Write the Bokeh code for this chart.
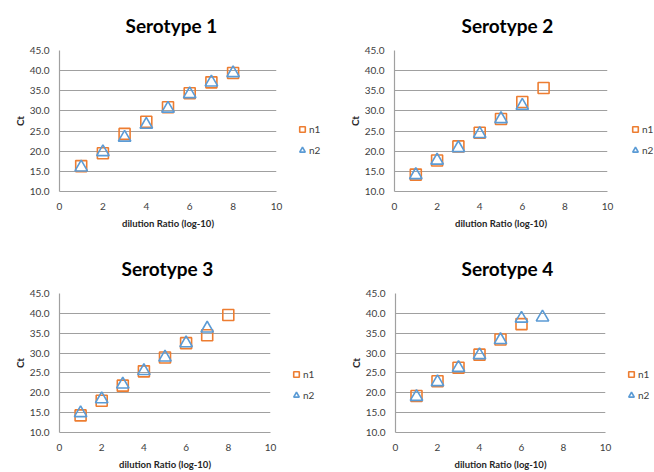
from bokeh.plotting import figure
from bokeh.layouts import column, row
from bokeh.models import (Range1d, FixedTicker, NumeralTickFormatter,
                          Legend, LegendItem, ColumnDataSource)
from bokeh.embed import file_html
from bokeh.resources import INLINE

# ---------------- data ----------------
titles = ["Serotype 1", "Serotype 2", "Serotype 3", "Serotype 4"]

s1_x_n1 = [1, 2, 3, 4, 5, 6, 7, 8]
s1_n1 = [16.3, 19.5, 24.3, 27.3, 30.9, 34.4, 37.1, 39.4]
s1_x_n2 = [1, 2, 3, 4, 5, 6, 7, 8]
s1_n2 = [16.0, 19.8, 23.4, 26.6, 30.6, 34.2, 37.1, 39.4]

s2_x_n1 = [1, 2, 3, 4, 5, 6, 7]
s2_n1 = [14.2, 17.7, 21.2, 24.6, 28.0, 32.2, 35.7]
s2_x_n2 = [1, 2, 3, 4, 5, 6]
s2_n2 = [14.1, 17.7, 20.8, 24.3, 28.0, 31.3]

s3_x_n1 = [1, 2, 3, 4, 5, 6, 7, 8]
s3_n1 = [14.3, 18.0, 21.8, 25.4, 28.9, 32.5, 34.5, 39.6]
s3_x_n2 = [1, 2, 3, 4, 5, 6, 7]
s3_n2 = [14.9, 18.4, 22.1, 25.5, 28.9, 32.5, 36.2]

s4_x_n1 = [1, 2, 3, 4, 5, 6]
s4_n1 = [19.2, 22.9, 26.3, 29.6, 33.4, 37.3]
s4_x_n2 = [1, 2, 3, 4, 5, 6, 7]
s4_n2 = [19.0, 22.7, 26.3, 29.5, 33.3, 38.7, 39.0]

x_ticks = [0, 2, 4, 6, 8, 10]
y_ticks = [10, 15, 20, 25, 30, 35, 40, 45]
x_label = "dilution Ratio (log-10)"
y_label = "Ct"
series_names = ["n1", "n2"]

# ---------------- style ----------------
FONT = "Lato"
ORANGE = "#ED7D31"
BLUE = "#5B9BD5"
GRID = "#A0A0A0"
TICK_TXT = "#404040"

# per-panel: main fig (width, height, borders), title offset/standoff,
#            legend fig width, legend (x, y)
layouts = [
    dict(w=286, h=236, l=59, r=10, t=50, b=45, toff=66, tso=24, lw=41, lx=9, ly=34),
    dict(w=290, h=236, l=67, r=10, t=50, b=45, toff=67, tso=24, lw=37, lx=11, ly=34),
    dict(w=280, h=236, l=59, r=10, t=57, b=37, toff=62, tso=24, lw=47, lx=9, ly=30),
    dict(w=288, h=236, l=68, r=10, t=57, b=37, toff=66, tso=24, lw=39, lx=9, ly=30),
]

data = [
    (s1_x_n1, s1_n1, s1_x_n2, s1_n2),
    (s2_x_n1, s2_n1, s2_x_n2, s2_n2),
    (s3_x_n1, s3_n1, s3_x_n2, s3_n2),
    (s4_x_n1, s4_n1, s4_x_n2, s4_n2),
]

SQ = dict(marker="square", size=11, line_color=ORANGE, line_width=1.6, fill_alpha=0)
TRI = dict(marker="triangle", size=12.5, line_color=BLUE, line_width=1.6, fill_alpha=0)


def make_panel(i):
    L = layouts[i]
    x1, y1, x2, y2 = data[i]
    src1 = ColumnDataSource(dict(x=x1, y=y1))
    src2 = ColumnDataSource(dict(x=x2, y=y2))

    p = figure(width=L["w"], height=L["h"], output_backend="svg", toolbar_location=None,
               x_range=Range1d(0, 10), y_range=Range1d(10, 45),
               title=titles[i],
               min_border_left=L["l"], min_border_right=L["r"],
               min_border_top=L["t"], min_border_bottom=L["b"])
    p.outline_line_color = None

    p.title.align = "left"
    p.title.vertical_align = "top"
    p.title.offset = L["toff"]
    p.title.standoff = L["tso"]
    p.title.text_font = FONT
    p.title.text_font_style = "bold"
    p.title.text_font_size = "19px"
    p.title.text_color = "#000000"

    p.xgrid.grid_line_color = None
    p.ygrid.grid_line_color = GRID
    p.ygrid.grid_line_width = 1.2
    p.ygrid.ticker = FixedTicker(ticks=y_ticks)

    for ax in (p.xaxis[0], p.yaxis[0]):
        ax.axis_line_color = GRID
        ax.axis_line_width = 1.2
        ax.major_tick_line_color = None
        ax.minor_tick_line_color = None
        ax.major_tick_out = 0
        ax.major_tick_in = 0
        ax.major_label_text_font = FONT
        ax.major_label_text_font_size = "10px"
        ax.major_label_text_color = TICK_TXT
        ax.axis_label_text_font = FONT
        ax.axis_label_text_font_style = "bold"
        ax.axis_label_text_color = "#262626"
    p.xaxis[0].ticker = FixedTicker(ticks=x_ticks)
    p.yaxis[0].ticker = FixedTicker(ticks=y_ticks)
    p.yaxis[0].formatter = NumeralTickFormatter(format="0.0")
    p.xaxis[0].major_label_standoff = 11
    p.yaxis[0].major_label_standoff = 10
    p.xaxis[0].axis_label = x_label
    p.xaxis[0].axis_label_text_font_size = "9.5px"
    p.xaxis[0].axis_label_standoff = 5
    p.yaxis[0].axis_label = y_label
    p.yaxis[0].axis_label_text_font_size = "10px"
    p.yaxis[0].axis_label_standoff = 1

    p.scatter("x", "y", source=src1, **SQ)
    p.scatter("x", "y", source=src2, **TRI)

    # legend in a small companion figure to the right of the plot area;
    # its ranges lie away from the data, so only the legend itself shows
    lg = figure(width=L["lw"], height=L["h"], output_backend="svg", toolbar_location=None,
                x_range=Range1d(-20, -19), y_range=Range1d(-20, -19),
                min_border_left=0, min_border_right=0, min_border_top=0,
                min_border_bottom=0, x_axis_location=None, y_axis_location=None)
    lg.outline_line_color = None
    lg.xgrid.visible = False
    lg.ygrid.visible = False
    lr1 = lg.scatter("x", "y", source=src1, **SQ)
    lr2 = lg.scatter("x", "y", source=src2, **TRI)
    legend = Legend(items=[LegendItem(label=series_names[0], renderers=[lr1]),
                           LegendItem(label=series_names[1], renderers=[lr2])],
                    location=(L["lx"], L["ly"]), padding=0, margin=0, spacing=7,
                    glyph_width=14, glyph_height=14, label_height=14,
                    label_standoff=0, label_text_font=FONT,
                    label_text_font_size="10px", label_text_color=TICK_TXT,
                    border_line_color=None, background_fill_alpha=0)
    lg.add_layout(legend, "center")
    return row(p, lg)


panels = [make_panel(i) for i in range(4)]
layout = column(row(panels[0], panels[1]), row(panels[2], panels[3]))

open("out.html", "w").write(file_html(layout, INLINE))
